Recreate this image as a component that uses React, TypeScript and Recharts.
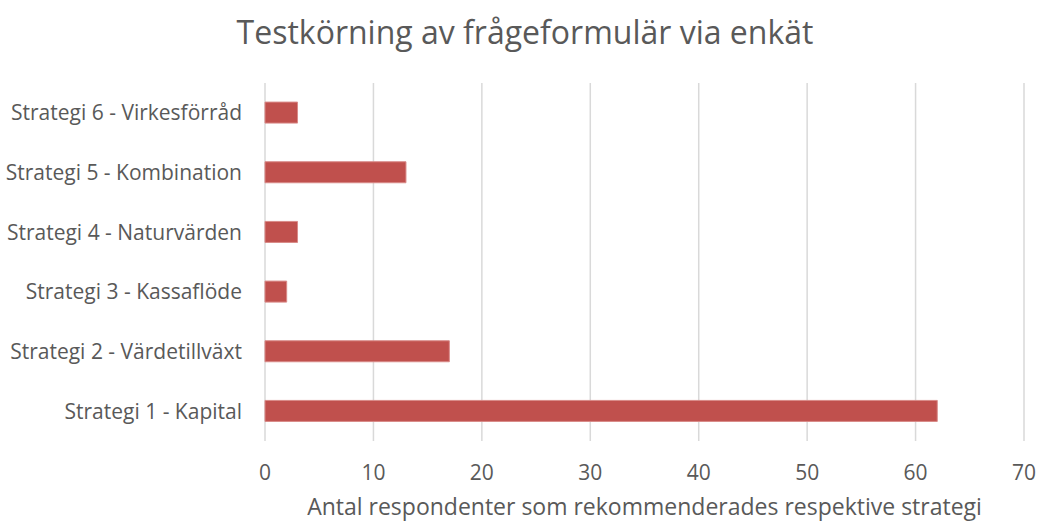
import React from 'react';
import { BarChart, Bar, XAxis, YAxis, CartesianGrid } from 'recharts';

const categories = [
  'Strategi 6 - Virkesförråd',
  'Strategi 5 - Kombination',
  'Strategi 4 - Naturvärden',
  'Strategi 3 - Kassaflöde',
  'Strategi 2 - Värdetillväxt',
  'Strategi 1 - Kapital',
];
const counts = [3, 13, 3, 2, 17, 62];
const xTicks = [0, 10, 20, 30, 40, 50, 60, 70];

const data = categories.map((name, i) => ({ name, value: counts[i] }));

const FONT = '"Open Sans", sans-serif';
const TEXT = '#595959';

const CategoryTick = (props: any) => {
  const { y, payload } = props;
  return (
    <text x={242} y={y} dy="0.35em" textAnchor="end" fontSize={21} fill={TEXT} fontFamily={FONT}>
      {payload.value}
    </text>
  );
};

const ValueTick = (props: any) => {
  const { x, payload } = props;
  return (
    <text x={x} y={473} dy="0.35em" textAnchor="middle" fontSize={21} fill={TEXT} fontFamily={FONT}>
      {payload.value}
    </text>
  );
};

export default function App() {
  return (
    <div style={{ position: 'relative', width: 1038, height: 521, background: '#fff', fontFamily: FONT, overflow: 'hidden' }}>
      <style>{'body{margin:0}'}</style>
      <div
        style={{
          position: 'absolute',
          top: 14,
          left: 0,
          width: 1050,
          textAlign: 'center',
          fontSize: 32,
          lineHeight: '36px',
          color: TEXT,
        }}
      >
        Testkörning av frågeformulär via enkät
      </div>
      <BarChart
        width={1038}
        height={521}
        data={data}
        layout="vertical"
        margin={{ top: 83, right: 14, left: 0, bottom: 0 }}
        barCategoryGap="32%"
      >
        <CartesianGrid horizontal={false} stroke="#d9d9d9" strokeWidth={1.5} />
        <XAxis
          type="number"
          domain={[0, 70]}
          ticks={xTicks}
          axisLine={false}
          tickLine={false}
          height={80}
          tick={<ValueTick />}
          interval={0}
        />
        <YAxis
          type="category"
          dataKey="name"
          width={265}
          axisLine={false}
          tickLine={false}
          tick={<CategoryTick />}
          interval={0}
        />
        <Bar dataKey="value" fill="#C0504D" stroke="#d98a88" strokeWidth={1} isAnimationActive={false} />
      </BarChart>
      <div
        style={{
          position: 'absolute',
          top: 495,
          left: 265,
          width: 759,
          textAlign: 'center',
          fontSize: 23,
          lineHeight: '23px',
          color: TEXT,
          whiteSpace: 'nowrap',
        }}
      >
        Antal respondenter som rekommenderades respektive strategi
      </div>
    </div>
  );
}
